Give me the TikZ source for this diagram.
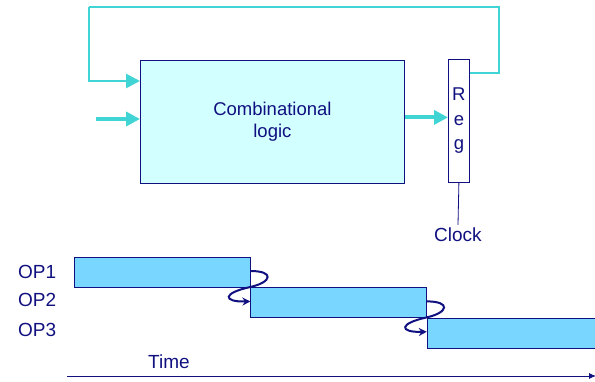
\documentclass[tikz,border=0pt]{standalone}
\usepackage{fontspec}
\setmainfont{Liberation Sans}
\usetikzlibrary{positioning,calc,arrows.meta}

\definecolor{navy}{RGB}{16,16,128}
\definecolor{wirecyan}{RGB}{64,212,212}
\definecolor{logicfill}{RGB}{210,255,255}
\definecolor{opfill}{RGB}{120,214,255}

\begin{document}
\begin{tikzpicture}[x=1pt, y=1pt,
    logicnode/.style={rectangle, draw=navy, fill=logicfill, thick, minimum width=264pt, minimum height=123pt,
        text=navy, align=center, font=\fontsize{18.5}{22}\selectfont},
    regnode/.style={rectangle, draw=navy, fill=white, thick, minimum width=21pt, minimum height=123pt, inner sep=0pt,
        text=navy, align=center, font=\fontsize{18.5}{24.5}\selectfont},
    opnode/.style={rectangle, draw=navy, fill=opfill, minimum height=30pt, inner sep=0pt},
    labelnode/.style={text=navy, inner sep=0pt, font=\fontsize{19}{22}\selectfont},
    wire/.style={draw=wirecyan, line width=2.7pt},
    arrowwire/.style={wire, line width=4pt, -{Triangle[length=14pt, width=14pt]}},
    curl/.style={draw=navy, line width=2pt, -{Stealth[length=8pt, width=8pt]}},
    ]
    \useasboundingbox (0,0) rectangle (595,382);

    %Nodes
    \node[logicnode, anchor=north west] (logic) at (140,322) {Combinational\\logic};
    \node[regnode, anchor=north west]   (reg)   at (448,323) {R\\e\\g};
    \node[labelnode]                    (clock) at (458,147) {Clock};

    \node[opnode, minimum width=176pt, anchor=north west] (op1) at (74,125) {};
    \node[opnode, minimum width=176pt, anchor=north west] (op2) at (op1.south east) {};
    \node[opnode, minimum width=180pt, anchor=north west] (op3) at (op2.south east) {};

    \node[labelnode, anchor=west] (op1lab) at (18,110.5) {OP1};
    \node[labelnode, anchor=west] (op2lab) at (18,82)    {OP2};
    \node[labelnode, anchor=west] (op3lab) at (18,52)    {OP3};
    \node[labelnode]              (time)   at (169,20)   {Time};

    \coordinate (fbright) at (499,375);
    \coordinate (fbleft)  at (89,375);
    \coordinate (input)   at (96,263);
    \coordinate (tstart)  at (67,6);
    \coordinate (tend)    at (596,6);

    %Lines
    \draw[wire] ([yshift=-14pt]reg.north east) -| (fbright) -- (fbleft);
    \draw[wire, -{Triangle[length=14pt, width=14pt]}] (fbleft) |- ([yshift=-21pt]logic.north west);
    \draw[arrowwire] (input) -- (input -| logic.west);
    \draw[arrowwire] ([yshift=4.5pt]logic.east) -- ([yshift=4.5pt]logic.east -| reg.west);
    \draw[navy, thick] (reg.south) -- ([yshift=3pt]clock.north);

    \foreach \a/\b in {op1/op2, op2/op3}
        \draw[curl] ([yshift=-14pt]\a.north east)
            .. controls ($(\a.north east)+(24,-14)$) and ($(\a.north east)+(22,-25)$) .. ($(\a.north east)+(0,-30)$)
            .. controls ($(\a.north east)+(-28,-36)$) and ($(\a.north east)+(-28,-45)$) .. ([yshift=-14pt]\b.north west);

    \draw[navy, thick, -{Latex[length=7pt, width=6pt]}] (tstart) -- (tend);

    \end{tikzpicture}
\end{document}
